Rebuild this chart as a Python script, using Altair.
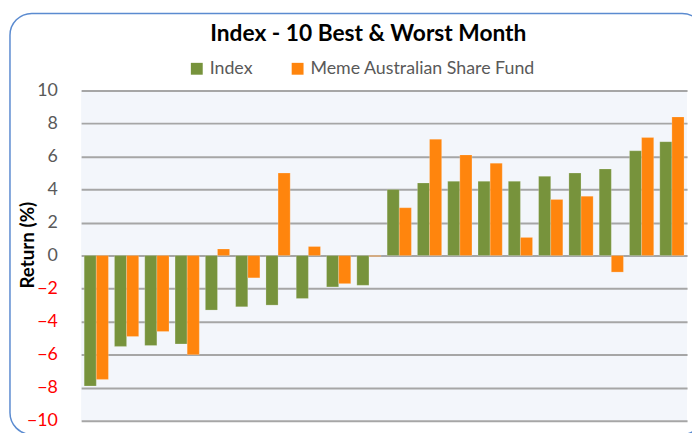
import altair as alt
import pandas as pd

ranks = list(range(1, 21))
index_vals = [-7.9, -5.5, -5.45, -5.35, -3.3, -3.1, -3.0, -2.6, -1.9, -1.8,
              4.0, 4.4, 4.5, 4.5, 4.5, 4.8, 5.0, 5.25, 6.35, 6.9]
fund_vals = [-7.5, -4.9, -4.6, -6.0, 0.4, -1.35, 5.0, 0.55, -1.7, -0.05,
             2.9, 7.05, 6.1, 5.6, 1.1, 3.4, 3.6, -1.0, 7.15, 8.4]
series = ["Index", "Meme Australian Share Fund"]
colors = ["#77933C", "#FF850D"]
y_ticks = [-10, -8, -6, -4, -2, 0, 2, 4, 6, 8, 10]

rows = []
for r, a, b in zip(ranks, index_vals, fund_vals):
    rows.append({"rank": r, "series": series[0], "value": a})
    rows.append({"rank": r, "series": series[1], "value": b})
df = pd.DataFrame(rows)

FONT = "Lato"

bars = alt.Chart(df).mark_bar(stroke="#FFFFFF", strokeOpacity=0.35, strokeWidth=0.6).encode(
    x=alt.X("rank:O", axis=None,
            scale=alt.Scale(paddingInner=0.2, paddingOuter=0.1)),
    xOffset=alt.XOffset("series:N", sort=series,
                        scale=alt.Scale(paddingInner=0, paddingOuter=0)),
    y=alt.Y("value:Q",
            scale=alt.Scale(domain=[-10, 10], nice=False),
            axis=alt.Axis(values=y_ticks, title="Return (%)", grid=True,
                          gridColor="#A6A6A6", gridWidth=2,
                          domain=False, ticks=False, labelPadding=24,
                          labelFont=FONT, labelFontSize=18,
                          labelColor={"condition": {"test": "datum.value < 0", "value": "#FF0000"},
                                      "value": "#595959"},
                          titleFont=FONT, titleFontSize=19, titleFontWeight="bold",
                          titleColor="#000000", titleAngle=270,
                          titleX=-54, titleY=156, titleAlign="center",
                          titleBaseline="middle")),
    color=alt.Color("series:N", sort=series,
                    scale=alt.Scale(domain=series, range=colors),
                    legend=alt.Legend(title=None, orient="none", direction="horizontal",
                                      legendX=108, legendY=-31,
                                      symbolType="square", symbolSize=144,
                                      symbolStrokeWidth=0, labelOffset=4,
                                      columnPadding=36, labelLimit=0,
                                      labelFont=FONT, labelFontSize=18,
                                      labelColor="#595959")),
)

frame_df = pd.DataFrame({"a": [0]})
frame = alt.Chart(frame_df).mark_rect(
    fill=None, stroke="#5B8BD0", strokeWidth=1.5, cornerRadius=22, clip=False
).encode(
    x=alt.value(-72), x2=alt.value(630),
    y=alt.value(-78), y2=alt.value(348),
)

chart = alt.layer(frame, bars).properties(
    width=613, height=334,
    padding={"left": 74, "top": 81, "right": 5, "bottom": 10},
    autosize=alt.AutoSizeParams(type="none"),
    title=alt.TitleParams("Index - 10 Best & Worst Month", font=FONT, fontSize=23,
                          fontWeight="bold", color="#000000", anchor="middle",
                          offset=-34, dx=-16),
    background="#FFFFFF",
).configure_view(fill="#F3F6FB", stroke=None)

chart.save("out.html", embed_options={"renderer": "svg", "actions": False})
